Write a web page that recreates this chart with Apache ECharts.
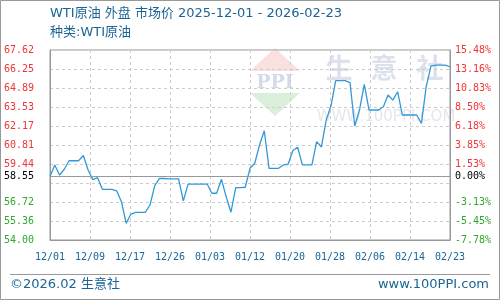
<!DOCTYPE html>
<html><head><meta charset="utf-8">
<script src="https://cdn.jsdelivr.net/npm/echarts@6/dist/echarts.min.js"></script>
<style>html,body{margin:0;padding:0;background:#fff}#c{width:500px;height:300px}</style>
</head><body><div id="c"></div>
<script>
const TITLE = 'WTI原油 外盘 市场价 2025-12-01 - 2026-02-23';
const SUBTITLE = '种类:WTI原油';
const FOOT_LEFT = '©2026.02 生意社';
const FOOT_RIGHT = 'www.100PPI.com';
const DATES = [
 '2025-12-01','2025-12-02','2025-12-03','2025-12-04','2025-12-05','2025-12-06','2025-12-07','2025-12-08','2025-12-09','2025-12-10',
 '2025-12-11','2025-12-12','2025-12-13','2025-12-14','2025-12-15','2025-12-16','2025-12-17','2025-12-18','2025-12-19','2025-12-20',
 '2025-12-21','2025-12-22','2025-12-23','2025-12-24','2025-12-25','2025-12-26','2025-12-27','2025-12-28','2025-12-29','2025-12-30',
 '2025-12-31','2026-01-01','2026-01-02','2026-01-03','2026-01-04','2026-01-05','2026-01-06','2026-01-07','2026-01-08','2026-01-09',
 '2026-01-10','2026-01-11','2026-01-12','2026-01-13','2026-01-14','2026-01-15','2026-01-16','2026-01-17','2026-01-18','2026-01-19',
 '2026-01-20','2026-01-21','2026-01-22','2026-01-23','2026-01-24','2026-01-25','2026-01-26','2026-01-27','2026-01-28','2026-01-29',
 '2026-01-30','2026-01-31','2026-02-01','2026-02-02','2026-02-03','2026-02-04','2026-02-05','2026-02-06','2026-02-07','2026-02-08',
 '2026-02-09','2026-02-10','2026-02-11','2026-02-12','2026-02-13','2026-02-14','2026-02-15','2026-02-16','2026-02-17','2026-02-18',
 '2026-02-19','2026-02-20','2026-02-21','2026-02-22','2026-02-23'
];
const PRICES = [
 58.55,59.38,58.66,59.07,59.68,59.68,59.68,60.06,59.02,58.33,
 58.47,57.63,57.63,57.63,57.53,56.75,55.20,55.86,55.98,55.98,
 55.98,56.51,57.90,58.41,58.41,58.38,58.38,58.38,56.80,58.01,
 58.01,58.01,58.01,58.01,57.35,57.35,58.35,57.10,55.99,57.75,
 57.75,57.78,59.14,59.50,60.81,61.83,59.14,59.14,59.14,59.38,
 59.43,60.42,60.65,59.38,59.38,59.38,61.05,60.67,62.60,63.60,
 65.42,65.42,65.42,65.28,62.17,63.32,65.16,63.32,63.32,63.32,
 63.55,64.39,64.03,64.63,62.96,62.96,62.96,62.96,62.36,64.99,
 66.47,66.54,66.54,66.54,66.42
];
const BASE = 58.55;
const Y_MIN = 54.00, Y_MAX = 67.62;
const Y_GRID = [54.00,55.362,56.724,58.086,59.448,60.81,62.172,63.534,64.896,66.258,67.62];
const Y_LABEL_VALUES = [54.00,55.362,56.724,58.55,59.448,60.81,62.172,63.534,64.896,66.258,67.62];
const Y_LABELS_LEFT = ['54.00','55.36','56.72','58.55','59.44','60.81','62.17','63.53','64.89','66.25','67.62'];
const Y_LABELS_RIGHT = ['-7.78%','-5.45%','-3.13%','0.00%','1.53%','3.85%','6.18%','8.50%','10.83%','13.16%','15.48%'];
const X_LABELS = ['12/01','12/09','12/17','12/26','01/03','01/12','01/20','01/28','02/06','02/14','02/23'];

const DAY0 = Date.parse(DATES[0] + 'T00:00:00Z');
const dayIndex = d => Math.round((Date.parse(d + 'T00:00:00Z') - DAY0) / 86400000);
const SPAN = dayIndex(DATES[DATES.length - 1]);
const XSTEP = SPAN / (X_LABELS.length - 1);

const RED = '#f03535', GREEN = '#2fa82f', BLACK = '#000';
const BLUE_TXT = '#1b6595';
function labelIndex(v) {
  v = parseFloat(v);
  for (let i = 0; i < Y_LABEL_VALUES.length; i++) if (Math.abs(Y_LABEL_VALUES[i] - v) < 1e-6) return i;
  return -1;
}
function labelColor(v) {
  v = parseFloat(v);
  if (v > BASE + 1e-6) return RED;
  if (v < BASE - 1e-6) return GREEN;
  return BLACK;
}
const MONO = '"DejaVu Sans Mono", "Liberation Mono", monospace';
const SANS = '"DejaVu Sans", "Noto Sans CJK SC", sans-serif';

const chart = echarts.init(document.getElementById('c'), null, {renderer: 'canvas'});
chart.setOption({
  animation: false,
  backgroundColor: '#fff',
  grid: {left: 50, right: 50, top: 50, bottom: 60, show: true, borderColor: '#999', borderWidth: 1, containLabel: false},
  graphic: [
    {type: 'rect', z: -5, shape: {x: 0.5, y: 0.5, width: 499, height: 299}, style: {fill: 'none', stroke: '#999', lineWidth: 1}},
    {type: 'text', left: 50, top: 7, style: {text: TITLE, fill: BLUE_TXT, font: '13px ' + SANS}},
    {type: 'text', left: 50, top: 26, style: {text: SUBTITLE, fill: BLUE_TXT, font: '13px ' + SANS}},
    {type: 'line', shape: {x1: 10, y1: 274.5, x2: 490, y2: 274.5}, style: {stroke: '#999', lineWidth: 1}},
    {type: 'text', left: 10, top: 278, style: {text: FOOT_LEFT, fill: BLUE_TXT, font: '13px ' + SANS}},
    {type: 'text', right: 11, top: 278, style: {text: FOOT_RIGHT, fill: BLUE_TXT, font: '13px ' + SANS}},
    // watermark
    {type: 'polygon', z: -1, shape: {points: [[275, 48], [250, 71], [300, 71]]}, style: {fill: '#fbe0e0'}},
    {type: 'polygon', z: -1, shape: {points: [[250, 93], [300, 93], [275, 116]]}, style: {fill: '#dcefdc'}},
    {type: 'text', z: -1, x: 275, y: 83, style: {text: 'PPI', fill: '#d3daea', font: 'bold 19px "DejaVu Serif", serif', align: 'center', verticalAlign: 'middle'}},
    {type: 'text', z: -1, x: 339, y: 68, style: {text: '生', fill: '#dde1ec', font: 'bold 27px "Noto Sans CJK SC"', align: 'center', verticalAlign: 'middle'}},
    {type: 'text', z: -1, x: 384, y: 68, style: {text: '意', fill: '#dde1ec', font: 'bold 27px "Noto Sans CJK SC"', align: 'center', verticalAlign: 'middle'}},
    {type: 'text', z: -1, x: 430, y: 68, style: {text: '社', fill: '#dde1ec', font: 'bold 27px "Noto Sans CJK SC"', align: 'center', verticalAlign: 'middle'}},
    {type: 'text', z: -1, x: 386, y: 117, style: {text: 'WWW.100PPI.COM', fill: '#e6e7ee', font: '15px "DejaVu Sans"', align: 'center', verticalAlign: 'middle'}}
  ],
  xAxis: {
    type: 'value', min: 0, max: SPAN, interval: XSTEP,
    axisLine: {show: true, lineStyle: {color: '#999'}},
    axisTick: {show: false},
    splitLine: {show: true, lineStyle: {color: '#ccc', type: [3, 3]}},
    axisLabel: {
      color: BLUE_TXT, fontFamily: MONO, fontSize: 10, margin: 12,
      formatter: v => X_LABELS[Math.round(v / XSTEP)] || ''
    }
  },
  yAxis: [
    {
      type: 'value', min: Y_MIN, max: Y_MAX, position: 'left',
      axisLine: {show: true, lineStyle: {color: '#999'}},
      axisTick: {show: false, customValues: Y_GRID},
      splitLine: {show: true, lineStyle: {color: '#ccc', type: [3, 3]}},
      axisLabel: {
        customValues: Y_LABEL_VALUES, fontFamily: MONO, fontSize: 10, margin: 16,
        color: v => labelColor(v),
        formatter: v => { const i = labelIndex(v); return i >= 0 ? Y_LABELS_LEFT[i] : ''; }
      }
    },
    {
      type: 'value', min: Y_MIN, max: Y_MAX, position: 'right',
      axisLine: {show: true, lineStyle: {color: '#999'}},
      axisTick: {show: false, customValues: Y_GRID},
      splitLine: {show: false},
      axisLabel: {
        customValues: Y_LABEL_VALUES, fontFamily: MONO, fontSize: 10, margin: 5,
        color: v => labelColor(v),
        formatter: v => { const i = labelIndex(v); return i >= 0 ? Y_LABELS_RIGHT[i] : ''; }
      }
    }
  ],
  series: [{
    type: 'line', yAxisIndex: 0, z: 3,
    data: DATES.map((d, i) => [dayIndex(d), PRICES[i]]),
    showSymbol: false, symbol: 'none',
    lineStyle: {color: '#3399d6', width: 1.3},
    markLine: {
      silent: true, symbol: 'none', label: {show: false}, animation: false,
      lineStyle: {color: '#999', type: 'solid', width: 1},
      data: [{yAxis: BASE}]
    }
  }]
});
</script></body></html>
